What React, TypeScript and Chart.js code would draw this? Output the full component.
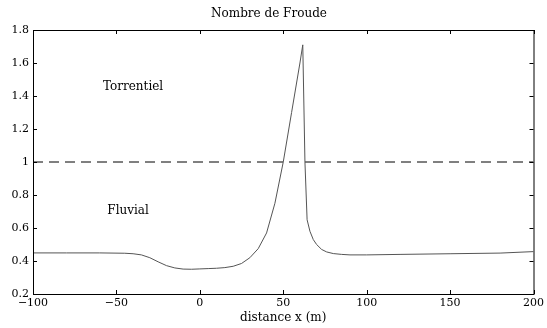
import React, { useEffect, useRef } from "react";
import { Chart, registerables } from "chart.js";

Chart.register(...registerables);

const TITLE = "Nombre de Froude";
const X_LABEL = "distance x (m)";
const X_TICKS = [-100, -50, 0, 50, 100, 150, 200];
const Y_TICKS = [0.2, 0.4, 0.6, 0.8, 1, 1.2, 1.4, 1.6, 1.8];

const distance = [
  -100, -80, -60, -45, -40, -35, -30, -25, -20, -15, -10, -5, 0, 5, 10, 15, 20,
  25, 30, 35, 40, 45, 50, 55, 60, 61.7, 63, 64.3, 66, 68, 70, 73, 76, 80, 85,
  90, 100, 120, 150, 180, 200,
];
const froude = [
  0.449, 0.449, 0.449, 0.447, 0.444, 0.437, 0.42, 0.395, 0.372, 0.358, 0.351,
  0.35, 0.352, 0.354, 0.356, 0.36, 0.368, 0.385, 0.42, 0.475, 0.57, 0.75, 1.0,
  1.3, 1.6, 1.71, 1.0, 0.65, 0.58, 0.53, 0.5, 0.47, 0.455, 0.445, 0.44, 0.437,
  0.437, 0.44, 0.444, 0.448, 0.457,
];
const criticalX = [-100, 200];
const criticalY = [1, 1];

const regionLabels = ["Torrentiel", "Fluvial"];
const regionX = [-40, -43];
const regionY = [1.455, 0.703];

const FONT = "'DejaVu Serif', serif";

export default function App() {
  const ref = useRef<HTMLCanvasElement>(null);
  useEffect(() => {
    document.body.style.margin = "0";
    const canvas = ref.current!;
    const framePlugin = {
      id: "frame",
      afterDraw(chart: any) {
        const { ctx, chartArea: a, scales } = chart;
        ctx.save();
        ctx.strokeStyle = "#000";
        ctx.lineWidth = 1;
        ctx.strokeRect(a.left + 0.5, a.top + 0.5, a.right - a.left, a.bottom - a.top);
        const L = 4;
        ctx.beginPath();
        X_TICKS.forEach((v) => {
          const px = Math.round(scales.x.getPixelForValue(v)) + 0.5;
          ctx.moveTo(px, a.bottom);
          ctx.lineTo(px, a.bottom - L);
          ctx.moveTo(px, a.top);
          ctx.lineTo(px, a.top + L);
        });
        Y_TICKS.forEach((v) => {
          const py = Math.round(scales.y.getPixelForValue(v)) + 0.5;
          ctx.moveTo(a.left, py);
          ctx.lineTo(a.left + L, py);
          ctx.moveTo(a.right, py);
          ctx.lineTo(a.right - L, py);
        });
        ctx.stroke();
        ctx.fillStyle = "#000";
        ctx.font = `12px ${FONT}`;
        ctx.textAlign = "center";
        ctx.textBaseline = "middle";
        regionLabels.forEach((t, i) => {
          ctx.fillText(
            t,
            scales.x.getPixelForValue(regionX[i]),
            scales.y.getPixelForValue(regionY[i])
          );
        });
        ctx.restore();
      },
    };
    const chart = new Chart(canvas, {
      type: "scatter",
      data: {
        datasets: [
          {
            data: distance.map((x, i) => ({ x, y: froude[i] })),
            showLine: true,
            borderColor: "#555",
            borderWidth: 1,
            pointRadius: 0,
            tension: 0,
          },
          {
            data: criticalX.map((x, i) => ({ x, y: criticalY[i] })),
            showLine: true,
            borderColor: "#000",
            borderWidth: 1,
            borderDash: [10, 6],
            pointRadius: 0,
          },
        ],
      },
      options: {
        responsive: false,
        animation: false,
        layout: { padding: { left: 0, right: 9, top: 0, bottom: 0 } },
        plugins: {
          legend: { display: false },
          tooltip: { enabled: false },
          title: {
            display: true,
            text: TITLE,
            color: "#000",
            font: { family: FONT, size: 12, weight: "normal" },
            padding: { top: 7, bottom: 8.6 },
          },
        },
        scales: {
          x: {
            type: "linear",
            min: -100,
            max: 200,
            afterBuildTicks: (s: any) => {
              s.ticks = X_TICKS.map((v) => ({ value: v }));
            },
            afterFit: (s: any) => {
              s.height = 34;
            },
            grid: { display: false, drawTicks: false },
            border: { display: false },
            ticks: {
              color: "#000",
              padding: 3,
              maxRotation: 0,
              font: { family: FONT, size: 11 },
              callback: (v: any) => String(v).replace("-", "\u2212"),
            },
            title: {
              display: true,
              text: X_LABEL,
              color: "#000",
              font: { family: FONT, size: 12 },
              padding: { top: 0, bottom: 3 },
            },
          },
          y: {
            min: 0.2,
            max: 1.8,
            afterBuildTicks: (s: any) => {
              s.ticks = Y_TICKS.map((v) => ({ value: v }));
            },
            afterFit: (s: any) => {
              s.width = 33;
            },
            grid: { display: false, drawTicks: false },
            border: { display: false },
            ticks: {
              color: "#000",
              padding: 4,
              font: { family: FONT, size: 11 },
              callback: (v: any) => String(Number(Number(v).toFixed(1))),
            },
          },
        },
      },
      plugins: [framePlugin],
    } as any);
    return () => chart.destroy();
  }, []);
  return <canvas ref={ref} width={547} height={328} style={{ display: "block" }} />;
}
